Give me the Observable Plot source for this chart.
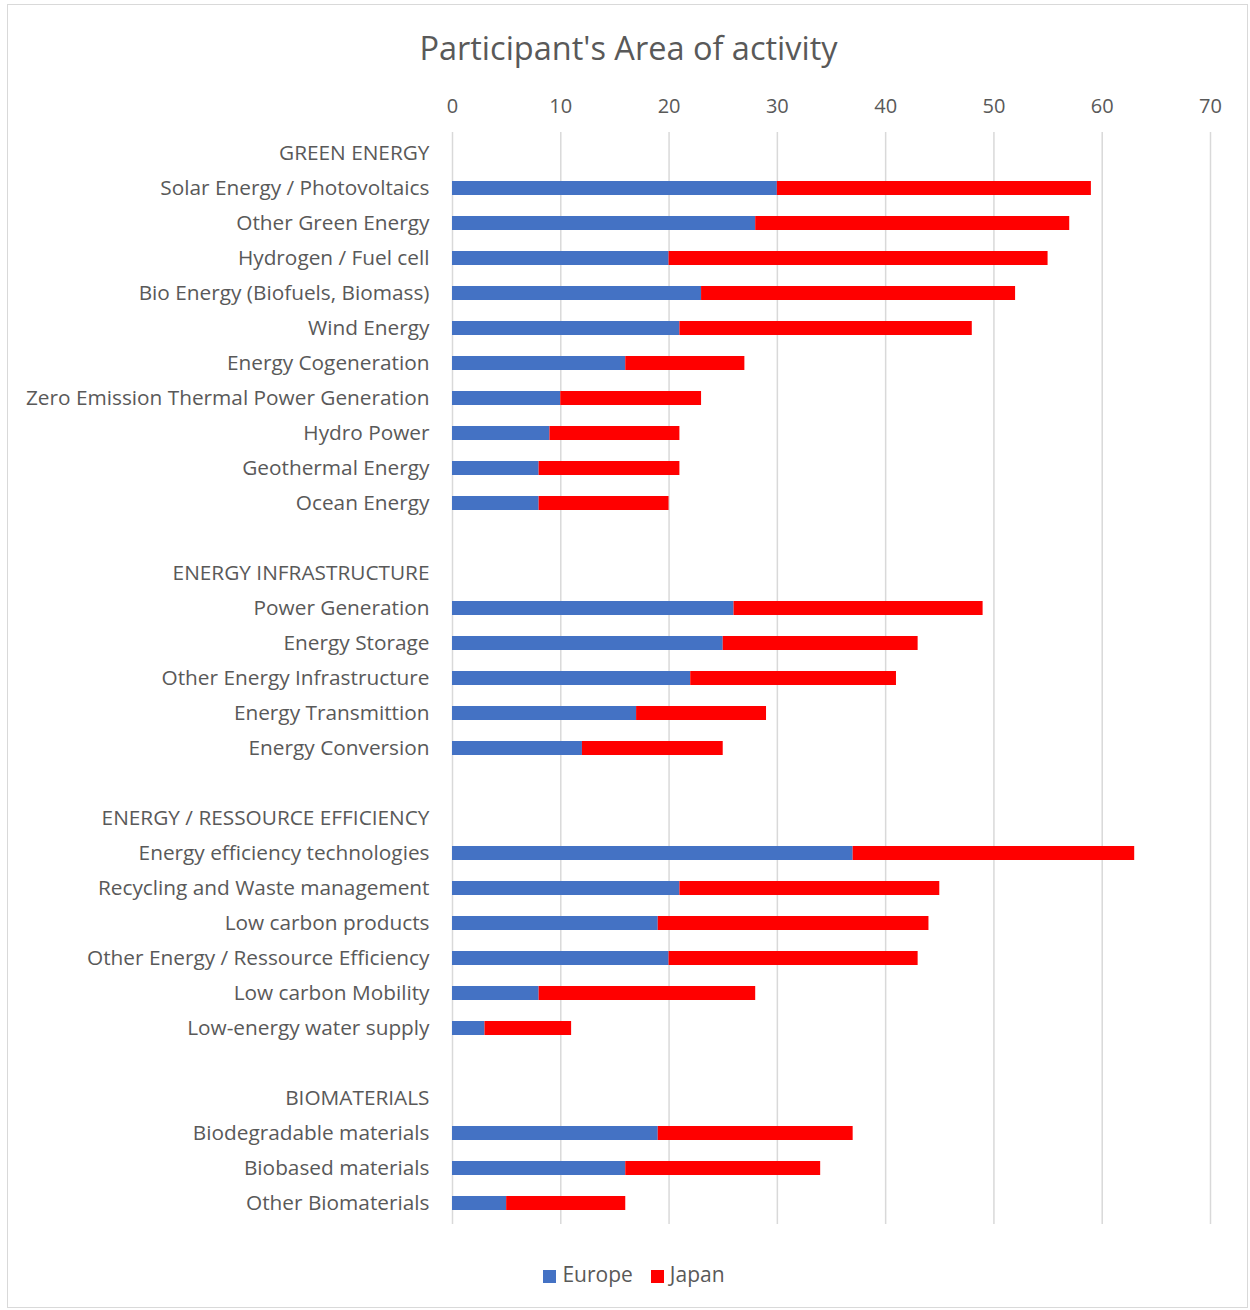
<!DOCTYPE html>
<html>
<head>
<meta charset="utf-8">
<script src="https://cdn.jsdelivr.net/npm/d3@7"></script>
<script src="https://cdn.jsdelivr.net/npm/@observablehq/plot@0.6"></script>
<style>
  body { margin: 0; background: #fff; font-family: "Open Sans", sans-serif; }
  #frame { position: absolute; left: 7px; top: 4px; width: 1241px; height: 1304px; border: 1px solid #d9d9d9; box-sizing: border-box; }
  #title { position: absolute; left: 7px; width: 1243px; top: 25px; text-align: center; font-size: 32.5px; color: #595959; }
  #chart { position: absolute; left: 0; top: 79px; }
  #legend { position: absolute; left: 9px; width: 1250px; top: 1260px; text-align: center; font-size: 21px; color: #595959; }
  .sw { display: inline-block; width: 13px; height: 13px; margin-right: 6px; vertical-align: -1px; }
  .item { display: inline-block; margin: 0 9px; }
</style>
</head>
<body>
<div id="frame"></div>
<div id="title">Participant's Area of activity</div>
<div id="chart"></div>
<div id="legend"></div>
<script>
const categories = [
  "GREEN ENERGY",
  "Solar Energy / Photovoltaics",
  "Other Green Energy",
  "Hydrogen / Fuel cell",
  "Bio Energy (Biofuels, Biomass)",
  "Wind Energy",
  "Energy Cogeneration",
  "Zero Emission Thermal Power Generation",
  "Hydro Power",
  "Geothermal Energy",
  "Ocean Energy",
  " ",
  "ENERGY INFRASTRUCTURE",
  "Power Generation",
  "Energy Storage",
  "Other Energy Infrastructure",
  "Energy Transmittion",
  "Energy Conversion",
  "  ",
  "ENERGY / RESSOURCE EFFICIENCY",
  "Energy efficiency technologies",
  "Recycling and Waste management",
  "Low carbon products",
  "Other Energy / Ressource Efficiency",
  "Low carbon Mobility",
  "Low-energy water supply",
  "   ",
  "BIOMATERIALS",
  "Biodegradable materials",
  "Biobased materials",
  "Other Biomaterials"
];
// null = header or spacer row (no bar)
const europe = [null,30,28,20,23,21,16,10,9,8,8, null, null,26,25,22,17,12, null, null,37,21,19,20,8,3, null, null,19,16,5];
const japan  = [null,29,29,35,29,27,11,13,12,13,12, null, null,23,18,19,12,13, null, null,26,24,25,23,20,8, null, null,18,18,11];
const seriesNames = ["Europe", "Japan"];
const seriesColors = ["#4472C4", "#FF0000"];
const xTicks = [0,10,20,30,40,50,60,70];

const data = [];
categories.forEach((c, i) => {
  if (europe[i] != null) data.push({cat: c, series: "Europe", value: europe[i]});
});
categories.forEach((c, i) => {
  if (japan[i] != null) data.push({cat: c, series: "Japan", value: japan[i]});
});

const chart = Plot.plot({
  width: 1250,
  height: 1155,
  marginLeft: 452,
  marginRight: 40,
  marginTop: 53,
  marginBottom: 10,
  style: { fontFamily: "Open Sans, sans-serif", color: "#595959", background: "transparent" },
  x: { domain: [0, 70], axis: null },
  y: { domain: categories, paddingInner: 0.6, paddingOuter: 0.3, axis: null },
  color: { domain: seriesNames, range: seriesColors },
  marks: [
    Plot.gridX(xTicks, { stroke: "#d9d9d9", strokeOpacity: 1, strokeWidth: 1.5 }),
    Plot.axisX(xTicks, { anchor: "top", tickSize: 0, tickPadding: 20, fontSize: 20, fill: "#595959", label: null }),
    Plot.axisY(categories, { anchor: "left", tickSize: 0, tickPadding: 23, fontSize: 20.8, fill: "#595959", label: null }),
    Plot.barX(data, { y: "cat", x: "value", fill: "series", order: seriesNames })
  ]
});
document.getElementById("chart").appendChild(chart);

const legend = document.getElementById("legend");
seriesNames.forEach((s, i) => {
  const span = document.createElement("span");
  span.className = "item";
  span.innerHTML = `<span class="sw" style="background:${seriesColors[i]}"></span>${s}`;
  legend.appendChild(span);
});
</script>
</body>
</html>
